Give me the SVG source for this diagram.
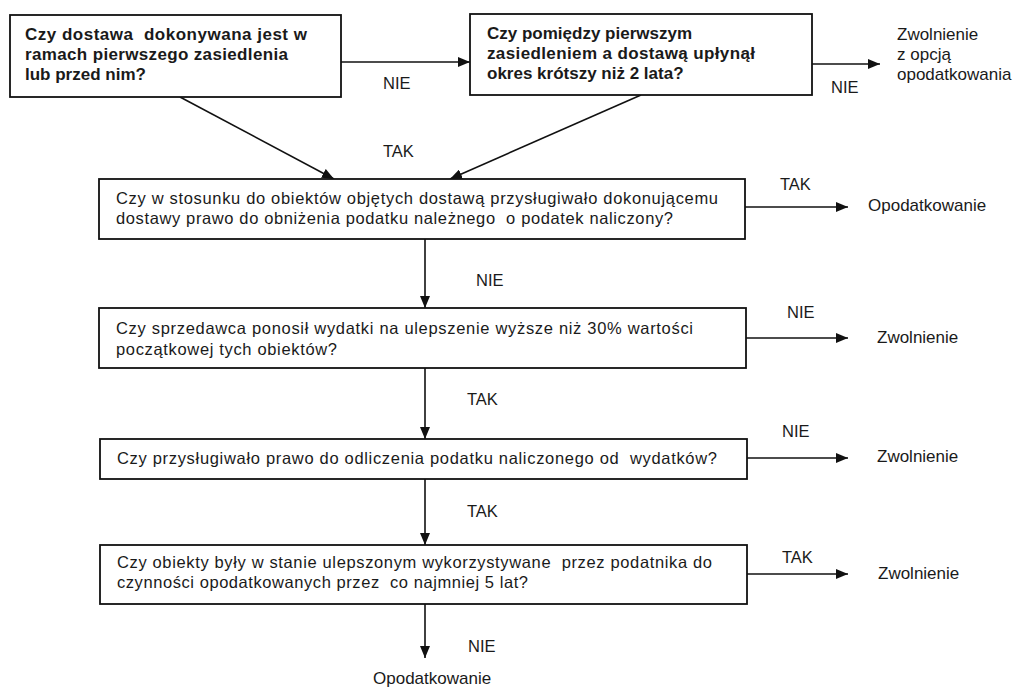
<svg xmlns="http://www.w3.org/2000/svg" width="1018" height="688" viewBox="0 0 1018 688">
<defs>
<marker id="ah" viewBox="0 0 12 10" refX="12" refY="5" markerWidth="12" markerHeight="10" markerUnits="userSpaceOnUse" orient="auto">
<path d="M0,0 L12,5 L0,10 Z" fill="#111"/>
</marker>
<style>
.box{fill:#fff;stroke:#111;stroke-width:1.8}
.q{font-family:"Liberation Sans",Arial,sans-serif;font-size:16.5px;fill:#1a1a1a}
.qb{font-family:"Liberation Sans",Arial,sans-serif;font-size:17px;font-weight:bold;fill:#1a1a1a}
.lbl{font-family:"Liberation Sans",Arial,sans-serif;font-size:16.5px;fill:#1a1a1a}
.out{font-family:"Liberation Sans",Arial,sans-serif;font-size:17px;fill:#1a1a1a}
.c{stroke:#111;stroke-width:1.6;fill:none;marker-end:url(#ah)}
</style>
</defs>
<rect width="1018" height="688" fill="#fff"/>

<g id="connectors">
<line class="c" x1="341" y1="62" x2="470" y2="62"/>
<line class="c" x1="812" y1="64" x2="880" y2="64"/>
<line class="c" x1="180" y1="97" x2="334" y2="179"/>
<line class="c" x1="641" y1="95" x2="450" y2="179"/>
<line class="c" x1="745" y1="207" x2="848" y2="207"/>
<line class="c" x1="425" y1="239" x2="425" y2="308"/>
<line class="c" x1="746" y1="338" x2="848" y2="338"/>
<line class="c" x1="425" y1="368" x2="425" y2="439"/>
<line class="c" x1="747" y1="458" x2="848" y2="458"/>
<line class="c" x1="425" y1="479" x2="425" y2="545"/>
<line class="c" x1="747" y1="574" x2="848" y2="574"/>
<line class="c" x1="425" y1="604" x2="425" y2="658"/>
<text class="lbl" x="383" y="89">NIE</text>
<text class="lbl" x="831" y="93">NIE</text>
<text class="lbl" x="383" y="157">TAK</text>
<text class="lbl" x="780" y="190">TAK</text>
<text class="lbl" x="476" y="286">NIE</text>
<text class="lbl" x="787" y="318">NIE</text>
<text class="lbl" x="467" y="405">TAK</text>
<text class="lbl" x="782" y="437">NIE</text>
<text class="lbl" x="467" y="517">TAK</text>
<text class="lbl" x="782" y="563">TAK</text>
<text class="lbl" x="468" y="652">NIE</text>
</g>

<g id="q1">
<rect class="box" x="10" y="15" width="331" height="82"/>
<text class="qb" x="25" y="40" textLength="282" lengthAdjust="spacing" xml:space="preserve">Czy dostawa  dokonywana jest w</text>
<text class="qb" x="25" y="60" textLength="263" lengthAdjust="spacing">ramach pierwszego zasiedlenia</text>
<text class="qb" x="25" y="80">lub przed nim?</text>
</g>

<g id="q2">
<rect class="box" x="470" y="14" width="342" height="81"/>
<text class="qb" x="487" y="39">Czy pomiędzy pierwszym</text>
<text class="qb" x="487" y="59" textLength="268" lengthAdjust="spacing">zasiedleniem a dostawą upłynął</text>
<text class="qb" x="487" y="79">okres krótszy niż 2 lata?</text>
</g>

<g id="out1">
<text class="out" x="897" y="40">Zwolnienie</text>
<text class="out" x="897" y="60">z opcją</text>
<text class="out" x="897" y="80">opodatkowania</text>
</g>

<g id="q3">
<rect class="box" x="99" y="179" width="646" height="60"/>
<text class="q" x="116" y="204" textLength="602" lengthAdjust="spacing">Czy w stosunku do obiektów objętych dostawą przysługiwało dokonującemu</text>
<text class="q" x="116" y="224" textLength="557" lengthAdjust="spacing" xml:space="preserve">dostawy prawo do obniżenia podatku należnego  o podatek naliczony?</text>
</g>

<g id="out2">
<text class="out" x="868" y="211">Opodatkowanie</text>
</g>

<g id="q4">
<rect class="box" x="99" y="308" width="647" height="60"/>
<text class="q" x="116" y="334" textLength="577" lengthAdjust="spacing">Czy sprzedawca ponosił wydatki na ulepszenie wyższe niż 30% wartości</text>
<text class="q" x="116" y="355" textLength="221" lengthAdjust="spacing">początkowej tych obiektów?</text>
</g>

<g id="out3">
<text class="out" x="877" y="343">Zwolnienie</text>
</g>

<g id="q5">
<rect class="box" x="100" y="439" width="647" height="40"/>
<text class="q" x="117" y="464" textLength="600" lengthAdjust="spacing" xml:space="preserve">Czy przysługiwało prawo do odliczenia podatku naliczonego od  wydatków?</text>
</g>

<g id="out4">
<text class="out" x="877" y="462">Zwolnienie</text>
</g>

<g id="q6">
<rect class="box" x="100" y="545" width="647" height="59"/>
<text class="q" x="117" y="568" textLength="595" lengthAdjust="spacing" xml:space="preserve">Czy obiekty były w stanie ulepszonym wykorzystywane  przez podatnika do</text>
<text class="q" x="117" y="588" textLength="411" lengthAdjust="spacing" xml:space="preserve">czynności opodatkowanych przez  co najmniej 5 lat?</text>
</g>

<g id="out5">
<text class="out" x="878" y="579">Zwolnienie</text>
</g>

<g id="out6">
<text class="out" x="373" y="684">Opodatkowanie</text>
</g>
</svg>
